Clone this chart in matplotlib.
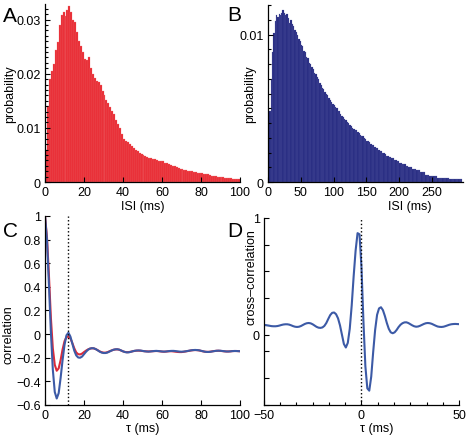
import numpy as np
import matplotlib
matplotlib.use('Agg')
import matplotlib.pyplot as plt
from matplotlib.ticker import MultipleLocator, FixedLocator

plt.rcParams['font.family'] = ['Liberation Sans', 'DejaVu Sans']
plt.rcParams['font.size'] = 9

# ---- data ----
# A: ISI histogram, 1 ms bins from 0 to 100 ms (probability x 1e-4)
isi_a = np.array([
    60, 140, 190, 205, 218, 243, 258, 289, 309, 314,
    307, 318, 325, 314, 300, 295, 277, 261, 252, 240,
    227, 226, 230, 210, 200, 192, 186, 184, 180, 168,
    160, 152, 146, 138, 132, 125, 115, 108, 100, 88,
    80, 76, 74, 70, 66, 62, 60, 57, 54, 51,
    50, 48, 47, 45, 44, 43, 42, 40, 39, 38,
    39, 36, 35, 33, 32, 30, 29, 27, 26, 25,
    24, 23, 22, 21, 20, 20, 19, 18, 17, 17,
    16, 15, 14, 14, 13, 12, 12, 11, 10, 10,
    9, 9, 8, 8, 7, 7, 6, 6, 6, 5]) * 1e-4
bin_a = 1.0

# B: ISI histogram, 2 ms bins from 0 to 296 ms (probability x 1e-4)
isi_b = np.array([
    22, 48, 70, 88, 101, 109, 113, 112, 114, 113,
    115, 117, 115, 113, 114, 111, 108, 110, 107, 106,
    103, 102, 100, 97, 96, 93, 92, 89, 88, 85,
    84, 81, 80, 78, 77, 74, 73, 71, 70, 67,
    66, 64, 63, 61, 60, 59, 57, 56, 54, 53,
    52, 51, 50, 48, 48, 46, 45, 44, 43, 42,
    41, 40, 39, 38, 37, 36, 35, 35, 34, 33,
    32, 31, 31, 30, 29, 28, 28, 27, 26, 25,
    25, 24, 23, 23, 22, 21, 21, 20, 20, 19,
    18, 18, 17, 17, 16, 16, 15, 15, 14, 14,
    13, 13, 12, 12, 12, 11, 11, 10, 10, 10,
    9, 9, 9, 8, 8, 8, 7, 7, 7, 7,
    5, 5, 5, 4, 4, 4, 4, 4, 4, 3,
    3, 3, 3, 3, 3, 3, 3, 3, 2, 2,
    2, 2, 2, 2, 2, 2, 2, 2]) * 1e-4
bin_b = 2.0

# C: autocorrelation, tau = 0..100 ms
tau_c = np.arange(0, 101)
corr_blue = [
    1.0, 0.8, 0.42, 0.02, -0.3, -0.49, -0.545, -0.5, -0.37, -0.22,
    -0.09, -0.01, 0.012, -0.02, -0.08, -0.14, -0.18, -0.198, -0.2, -0.19,
    -0.17, -0.15, -0.133, -0.123, -0.119, -0.12, -0.127, -0.137, -0.148, -0.156,
    -0.16, -0.16, -0.156, -0.148, -0.14, -0.133, -0.129, -0.128, -0.131, -0.138,
    -0.146, -0.152, -0.155, -0.154, -0.15, -0.145, -0.141, -0.139, -0.138, -0.139,
    -0.142, -0.145, -0.147, -0.148, -0.147, -0.145, -0.143, -0.142, -0.143, -0.145,
    -0.147, -0.148, -0.147, -0.145, -0.143, -0.142, -0.142, -0.144, -0.146, -0.148,
    -0.149, -0.148, -0.146, -0.143, -0.14, -0.137, -0.135, -0.134, -0.135, -0.137,
    -0.141, -0.145, -0.149, -0.151, -0.151, -0.149, -0.146, -0.143, -0.141, -0.14,
    -0.141, -0.143, -0.145, -0.147, -0.147, -0.146, -0.144, -0.143, -0.143, -0.144,
    -0.145]
corr_red = [
    1.0, 0.82, 0.5, 0.14, -0.12, -0.26, -0.31, -0.29, -0.22, -0.13,
    -0.06, -0.025, -0.02, -0.035, -0.075, -0.12, -0.155, -0.17, -0.172, -0.165,
    -0.152, -0.14, -0.13, -0.123, -0.12, -0.121, -0.127, -0.136, -0.146, -0.153,
    -0.157, -0.157, -0.153, -0.146, -0.139, -0.133, -0.13, -0.129, -0.132, -0.139,
    -0.146, -0.151, -0.153, -0.152, -0.149, -0.145, -0.142, -0.14, -0.14, -0.141,
    -0.143, -0.145, -0.146, -0.147, -0.146, -0.145, -0.144, -0.143, -0.144, -0.146,
    -0.148, -0.149, -0.148, -0.146, -0.145, -0.145, -0.147, -0.149, -0.151, -0.152,
    -0.152, -0.15, -0.147, -0.144, -0.141, -0.138, -0.136, -0.135, -0.136, -0.138,
    -0.142, -0.146, -0.149, -0.15, -0.15, -0.148, -0.145, -0.143, -0.141, -0.141,
    -0.142, -0.144, -0.146, -0.147, -0.147, -0.146, -0.144, -0.143, -0.143, -0.144,
    -0.145]

# D: cross-correlation, tau = -50..50 ms
tau_d = np.arange(-50, 51)
xcorr = [
    0.083, 0.082, 0.079, 0.076, 0.073, 0.072, 0.072, 0.074, 0.078, 0.083,
    0.087, 0.089, 0.089, 0.086, 0.08, 0.073, 0.068, 0.066, 0.068, 0.074,
    0.083, 0.092, 0.098, 0.1, 0.097, 0.089, 0.078, 0.067, 0.06, 0.058,
    0.062, 0.075, 0.1, 0.135, 0.168, 0.187, 0.19, 0.175, 0.14, 0.08,
    0.0, -0.08, -0.11, -0.07, 0.05, 0.25, 0.5, 0.72, 0.87, 0.86,
    0.58, 0.12, -0.27, -0.46, -0.48, -0.36, -0.15, 0.04, 0.17, 0.225,
    0.235, 0.21, 0.16, 0.1, 0.05, 0.02, 0.012, 0.02, 0.04, 0.065,
    0.085, 0.098, 0.105, 0.106, 0.1, 0.09, 0.08, 0.072, 0.068, 0.07,
    0.076, 0.084, 0.092, 0.098, 0.1, 0.098, 0.093, 0.085, 0.077, 0.07,
    0.067, 0.066, 0.068, 0.073, 0.079, 0.085, 0.089, 0.091, 0.092, 0.091,
    0.09]

red_bar = '#e8262e'
navy_bar = '#262a80'
blue_line = '#3c5aa6'
red_line = '#dc2a3a'


def style(ax):
    for s in ('top', 'right'):
        ax.spines[s].set_visible(False)
    for s in ('left', 'bottom'):
        ax.spines[s].set_linewidth(0.9)
    ax.tick_params(which='both', direction='in', width=0.8, labelsize=9, pad=3)
    ax.tick_params(which='major', length=3.5)
    ax.tick_params(which='minor', length=2)


fig = plt.figure(figsize=(4.67, 4.39), dpi=100, facecolor='white')

# ---- A ----
ax = fig.add_axes([0.0964, 0.583, 0.4176, 0.406])
edges_a = np.arange(len(isi_a)) * bin_a
ax.bar(edges_a, isi_a, width=bin_a, align='edge', color=red_bar,
       edgecolor='#f07a7e', linewidth=0.2)
ax.set_xlim(0, 100)
ax.set_ylim(0, 0.0329)
ax.set_xticks([0, 20, 40, 60, 80, 100])
ax.set_yticks([0, 0.01, 0.02, 0.03])
ax.set_yticklabels(['0', '0.01', '0.02', '0.03'])
ax.yaxis.set_minor_locator(MultipleLocator(0.001))
ax.set_xlabel('ISI (ms)')
ax.set_ylabel('probability')
ax.xaxis.set_label_coords(0.5, -0.10)
ax.yaxis.set_label_coords(-0.15, 0.5)
style(ax)

# ---- B ----
ax = fig.add_axes([0.574, 0.583, 0.417, 0.403])
edges_b = np.arange(len(isi_b)) * bin_b
ax.bar(edges_b, isi_b, width=bin_b, align='edge', color=navy_bar,
       edgecolor='#5a60a8', linewidth=0.15)
ax.set_xlim(0, 297)
ax.set_ylim(0, 0.012)
ax.set_xticks([0, 50, 100, 150, 200, 250])
ax.set_yticks([0, 0.01])
ax.set_yticklabels(['0', '0.01'])
ax.yaxis.set_minor_locator(MultipleLocator(0.001))
ax.set_xlabel('ISI (ms)')
ax.set_ylabel('probability')
ax.xaxis.set_label_coords(0.73, -0.10)
ax.yaxis.set_label_coords(-0.06, 0.5)
style(ax)

# ---- C ----
ax = fig.add_axes([0.0964, 0.0752, 0.4176, 0.4305])
ax.plot(tau_c, corr_red, color=red_line, lw=1.5)
ax.plot(tau_c, corr_blue, color=blue_line, lw=1.5)
ax.axvline(12, color='black', ls=':', lw=1)
ax.set_xlim(0, 100)
ax.set_ylim(-0.6, 1)
ax.set_xticks([0, 20, 40, 60, 80, 100])
yt = [-0.6, -0.4, -0.2, 0, 0.2, 0.4, 0.6, 0.8, 1]
ax.set_yticks(yt)
ax.set_yticklabels(['\u22120.6', '\u22120.4', '\u22120.2', '0', '0.2', '0.4',
                    '0.6', '0.8', '1'])
ax.set_xlabel('\u03c4 (ms)')
ax.set_ylabel('correlation')
ax.xaxis.set_label_coords(0.5, -0.09)
ax.yaxis.set_label_coords(-0.155, 0.376)
style(ax)

# ---- D ----
ax = fig.add_axes([0.565, 0.0759, 0.418, 0.4253])
ax.plot(tau_d, xcorr, color=blue_line, lw=1.5)
ax.axvline(0, color='black', ls=':', lw=1)
ax.set_xlim(-50, 50)
ax.set_ylim(-0.6, 1)
ax.set_xticks([-50, 0, 50])
ax.set_xticklabels(['\u221250', '0', '50'])
ax.xaxis.set_minor_locator(MultipleLocator(50 / 6))
ax.set_yticks([0, 1])
ax.set_yticklabels(['0', '1'])
ax.yaxis.set_minor_locator(FixedLocator(np.linspace(-0.6, 1, 8)))
ax.set_xlabel('\u03c4 (ms)')
ax.set_ylabel('cross\u2013correlation')
ax.xaxis.set_label_coords(0.58, -0.093)
ax.yaxis.set_label_coords(-0.035, 0.69)
style(ax)
ax.tick_params(axis='y', which='minor', length=3.5)

# panel letters
for txt, x, y in [('A', 0.006, 0.95), ('B', 0.486, 0.952),
                  ('C', 0.006, 0.46), ('D', 0.486, 0.46)]:
    fig.text(x, y, txt, fontsize=15, va='baseline', ha='left')

fig.savefig('out.png', dpi=100, facecolor='white')
